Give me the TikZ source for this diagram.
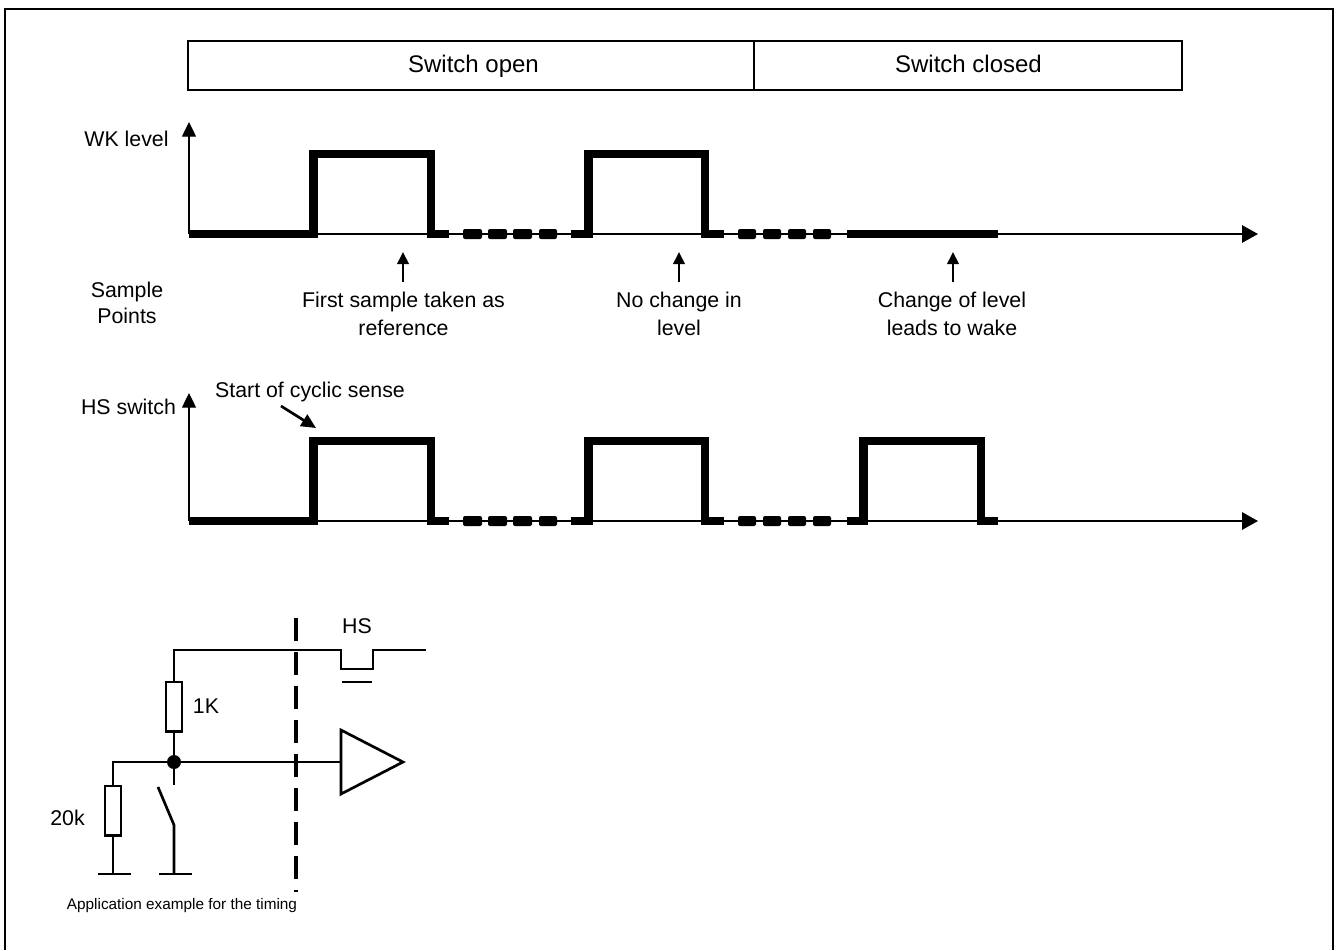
\documentclass[tikz,border=0pt]{standalone}
\usepackage{xcolor}
\usepackage{fontspec}
\setmainfont{Liberation Sans}
\usetikzlibrary{positioning,calc,arrows.meta}
\tikzset{
  axisline/.style={line width=1.5pt, -{Triangle[length=12pt,width=13pt]}},
  upaxis/.style={line width=1pt, -{Triangle[length=11pt,width=10.5pt]}},
  signal/.style={line width=6.4pt, line join=miter},
  wire/.style={line width=2pt},
  pointer/.style={line width=2pt, -{Triangle[length=9pt,width=8.5pt]}},
  resistor/.style={draw, line width=2pt, minimum width=12pt, minimum height=37pt, inner sep=0pt},
  label/.style={font=\fontsize{16}{20}\selectfont, align=center, inner sep=0pt},
  barlabel/.style={font=\fontsize{18}{20}\selectfont, anchor=base, inner sep=0pt},
  groundbar/.style={line width=2.2pt},
}
\begin{document}
\begin{tikzpicture}[x=0.75pt, y=-0.75pt]
    \useasboundingbox (0,0) rectangle (1338,950);
    \draw[line width=1.5pt] (5,950) -- (5,9) -- (1333,9) -- (1333,950);

    % state bar
    \draw[line width=2pt] (188,41) rectangle (1182,90);
    \draw[line width=2pt] (754,41) -- (754,90);
    \node[barlabel] (open) at (473.5,72.5) {Switch open};
    \node[barlabel] (closed) at (968.5,72.5) {Switch closed};

    % the two time axes
    \foreach \y/\tip in {234/122, 521/393} {
        \draw[axisline] (189,\y) -- (1258,\y);
        \draw[upaxis] (189,\y) -- (189,\tip);
    }
    \foreach \y in {0,287} {
        \begin{scope}[shift={(0,\y)}]
            \draw[signal] (189,234) -- (313.5,234) -- (313.5,154) -- (431,154) -- (431,234) -- (449,234);
            \draw[signal] (571,234) -- (588.5,234) -- (588.5,154) -- (705,154) -- (705,234) -- (724,234);
            \foreach \a/\b in {463/482, 488/507, 513/532, 539/557, 738/756, 763/781, 788/806, 813/831}
                \fill[rounded corners=1.5pt] (\a,229) rectangle (\b,239);
        \end{scope}
    }
    \draw[signal] (847,234) -- (998,234);
    \draw[signal] (847,521) -- (863.5,521) -- (863.5,441) -- (981,441) -- (981,521) -- (998,521);

    \node[label, anchor=base] (wklevel) at (126.5,146) {WK level};
    \node[label, anchor=base] (hsswitch) at (128.5,414) {HS switch};
    \node[label] (samples) at (127,303) {Sample\\Points};

    % sample points
    \node[label, font=\fontsize{16}{21}\selectfont] (first) at (403.5,314) {First sample taken as\\reference};
    \node[label, font=\fontsize{16}{21}\selectfont] (nochange) at (679,314) {No change in\\level};
    \node[label, font=\fontsize{16}{21}\selectfont] (wake) at (952,314) {Change of level\\leads to wake};
    \coordinate (tipa) at (403,252);
    \coordinate (tipb) at (679,252);
    \coordinate (tipc) at (953,252);
    \draw[pointer] (tipa) ++(0,30) -- (tipa);
    \draw[pointer] (tipb) ++(0,30) -- (tipb);
    \draw[pointer] (tipc) ++(0,30) -- (tipc);

    \node[label, anchor=base] (cyclic) at (310,397) {Start of cyclic sense};
    \coordinate (cyclictip) at (316,428);
    \coordinate (cyclicend) at (281,406);
    \draw[pointer, -{Triangle[length=11pt,width=10pt]}] (cyclicend) -- (cyclictip);

    % application circuit
    \coordinate (top) at (174,650);
    \coordinate (jn) at (174,762);
    \coordinate (left) at (113,762);
    \coordinate (gnda) at (113,874);
    \coordinate (gndb) at (174,874);
    \coordinate (hinge) at (174,825);
    \coordinate (contact) at (174,785);
    \coordinate (blade) at (158,787);
    \node[resistor] (rtop) at (174,706.5) {};
    \node[resistor] (rleft) at (113,810.5) {};
    \node[label] (onek) at (206,706) {1K};
    \node[label] (twentyk) at (67.5,818) {20k};
    \node[label, anchor=base] (hs) at (357,633) {HS};

    \draw[wire] (426,650) -- (373,650) -- (373,669) -- (341,669) -- (341,650) -- (top) -- (rtop);
    \draw[wire] (rtop) -- (jn) -- (contact);
    \draw[wire] (jn) -- (left) -- (rleft) -- (gnda);
    \draw[wire] (blade) -- (hinge) -- (gndb);
    \draw[groundbar] (98,874) -- (131,874);
    \draw[groundbar] (159,874) -- (192,874);
    \draw[groundbar] (342,682) -- (372,682);
    \fill (jn) circle (7);

    \draw[wire] (341,730) -- (403,762) -- (341,794) -- cycle;
    \draw[wire] (jn) -- (341,762);

    \draw[line width=3.2pt, dash pattern=on 17.25pt off 8.25pt] (296,618) -- (296,892);

    \node[font=\fontsize{11.5}{12}\selectfont, inner sep=0pt] (caption) at (182,906) {Application example for the timing};
\end{tikzpicture}
\end{document}
